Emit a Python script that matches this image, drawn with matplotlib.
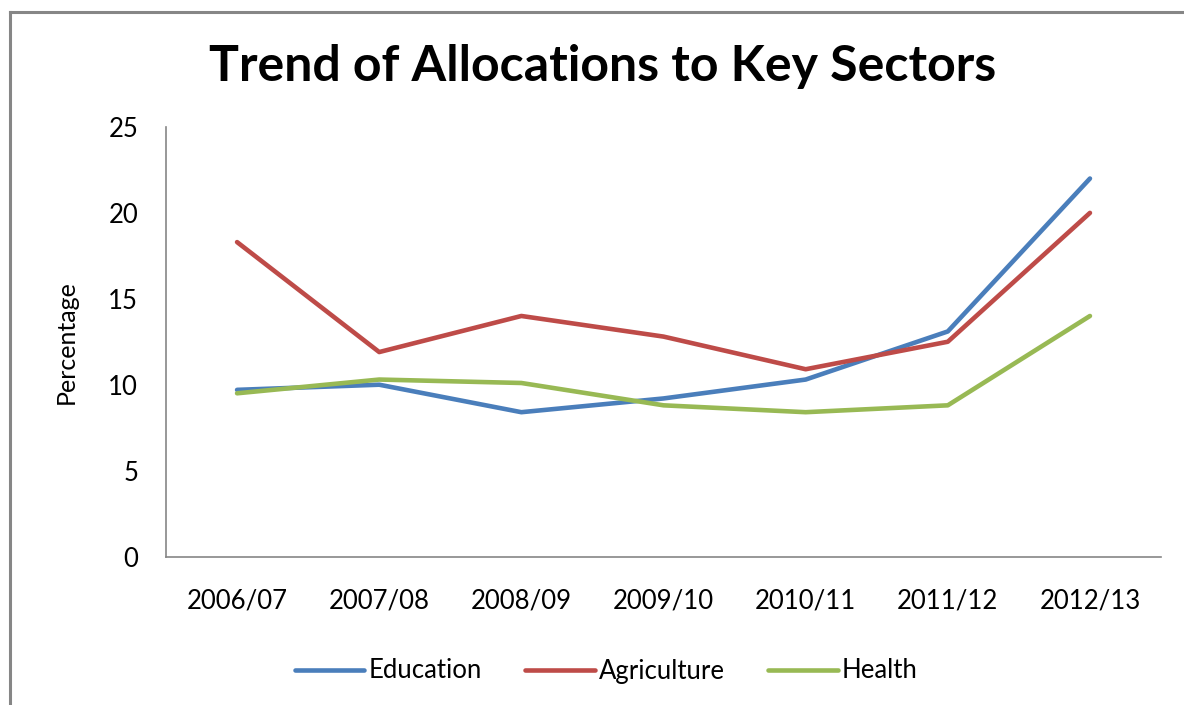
import matplotlib.pyplot as plt
from matplotlib.lines import Line2D

# datos
years = ["2006/07", "2007/08", "2008/09", "2009/10", "2010/11", "2011/12", "2012/13"]
education = [9.7, 10.0, 8.4, 9.2, 10.3, 13.1, 22.0]
agriculture = [18.3, 11.9, 14.0, 12.8, 10.9, 12.5, 20.0]
health = [9.5, 10.3, 10.1, 8.8, 8.4, 8.8, 14.0]

colores = ["#4A7EBB", "#BE4B48", "#98B954"]
labels = ["Education", "Agriculture", "Health"]

plt.rcParams['font.family'] = ['Lato', 'DejaVu Sans']

fig = plt.figure(figsize=(11.84, 7.05), dpi=100)
ax = fig.add_axes([0.1402, 0.2106, 0.8404, 0.6093])

x = range(len(years))
for serie, col, lab in zip([education, agriculture, health], colores, labels):
    ax.plot(x, serie, color=col, lw=3.3, label=lab, solid_capstyle='round')

ax.set_xlim(-0.5, len(years) - 0.5)
ax.set_ylim(0, 25)
ax.set_yticks([0, 5, 10, 15, 20, 25])
ax.set_xticks(list(x))
ax.set_xticklabels(years)
ax.tick_params(axis='both', length=0, labelsize=18.5)
ax.tick_params(axis='y', pad=20)
ax.tick_params(axis='x', pad=23)

for s in ["top", "right"]:
    ax.spines[s].set_visible(False)
for s in ["left", "bottom"]:
    ax.spines[s].set_color("#868686")
    ax.spines[s].set_linewidth(1.2)

ax.set_ylabel("Percentage", fontsize=18, labelpad=22)

fig.text(0.509, 0.905, "Trend of Allocations to Key Sectors", ha="center", va="center",
         fontsize=36, fontweight="bold")

# borde del area del grafico
fig.add_artist(Line2D([10/1184, 10/1184], [0, 1 - 12/705], color="#868686", lw=2.2,
                      transform=fig.transFigure))
fig.add_artist(Line2D([10/1184, 1], [1 - 12/705, 1 - 12/705], color="#868686", lw=2.2,
                      transform=fig.transFigure))

fig.legend(loc="center", bbox_to_anchor=(0.512, 1 - 671/705), ncol=3, frameon=False,
           fontsize=18.5, handlelength=2.7, handletextpad=0.15, columnspacing=1.7)

fig.savefig("out.png", dpi=100)
